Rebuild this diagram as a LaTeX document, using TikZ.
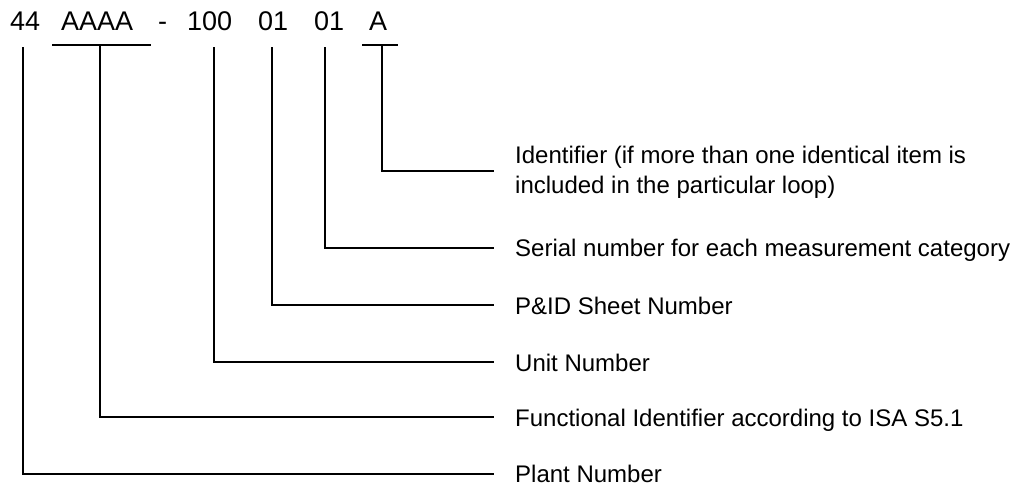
\documentclass[tikz,border=0pt]{standalone}
\usepackage{fontspec}
\setmainfont{Liberation Sans}
\begin{document}
\begin{tikzpicture}[x=1pt,y=-1pt,
  code/.style={anchor=base west,inner sep=0pt,font=\fontsize{27}{30}\selectfont},
  lab/.style={anchor=base west,inner sep=0pt,font=\fontsize{24}{30}\selectfont},
  wire/.style={line width=1.5pt,line cap=rect}]
\useasboundingbox (0,0) rectangle (1014,486);
% code string
\node[code] (c44) at (10,31) {44};
\node[code] (cAAAA) at (61,31) {AAAA};
\node[code] (cdash) at (158,31) {-};
\node[code] (c100) at (187,31) {100};
\node[code] (c01a) at (258,31) {01};
\node[code] (c01b) at (314,31) {01};
\node[code] (cA) at (369,31) {A};
% top ends of leaders
\coordinate (t1) at (23,48);
\coordinate (t2) at (100,45);
\coordinate (t3) at (214,48);
\coordinate (t4) at (272,48);
\coordinate (t5) at (325,48);
\coordinate (t6) at (382,45);
% bars
\coordinate (b2l) at (53,45); \coordinate (b2r) at (150,45);
\coordinate (b6l) at (363,45); \coordinate (b6r) at (397,45);
% right ends
\coordinate (e1) at (493,474);
\coordinate (e2) at (493,417);
\coordinate (e3) at (493,362);
\coordinate (e4) at (493,305);
\coordinate (e5) at (493,248);
\coordinate (e6) at (493,171);
% labels
\node[lab] (lplant) at (515,482) {Plant Number};
\node[lab] (lfunc) at (515,426) {Functional Identifier according to ISA S5.1};
\node[lab] (lunit) at (515,371) {Unit Number};
\node[lab] (lpid) at (515,314) {P\&ID Sheet Number};
\node[lab] (lser) at (515,257) {Serial number for each measurement category};
\node[lab] (lid1) at (515,164) {Identifier (if more than one identical item is};
\node[lab] (lid2) at (515,194) {included in the particular loop)};
% connectors
\draw[wire] (b2l) -- (b2r);
\draw[wire] (b6l) -- (b6r);
\draw[wire] (t1) |- (e1);
\draw[wire] (t2) |- (e2);
\draw[wire] (t3) |- (e3);
\draw[wire] (t4) |- (e4);
\draw[wire] (t5) |- (e5);
\draw[wire] (t6) |- (e6);
\end{tikzpicture}
\end{document}
